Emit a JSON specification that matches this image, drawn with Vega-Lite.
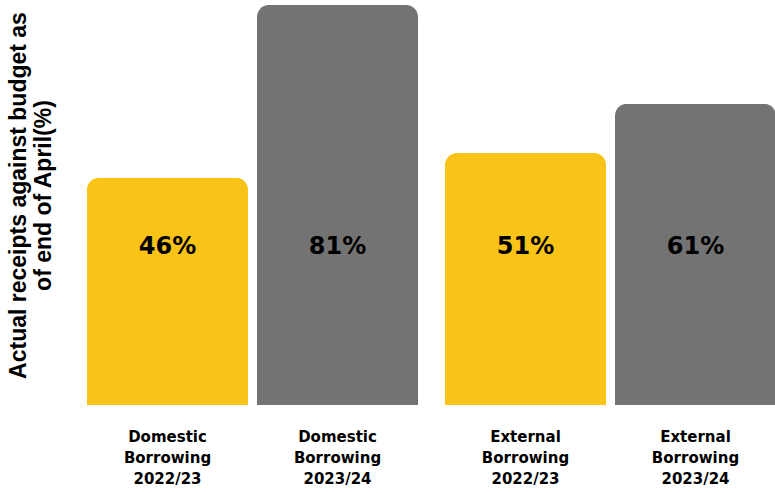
{
  "$schema": "https://vega.github.io/schema/vega-lite/v6.json",
  "width": 689,
  "height": 405,
  "autosize": {"type": "none"},
  "padding": {"left": 87, "top": 0, "right": 0, "bottom": 88},
  "background": "white",
  "config": {"view": {"stroke": null}},
  "data": {
    "values": [
      {"group": "Domestic Borrowing", "year": "2022/23", "value": 46, "pct": "46%", "label": "Domestic\nBorrowing\n2022/23"},
      {"group": "Domestic Borrowing", "year": "2023/24", "value": 81, "pct": "81%", "label": "Domestic\nBorrowing\n2023/24"},
      {"group": "External Borrowing", "year": "2022/23", "value": 51, "pct": "51%", "label": "External\nBorrowing\n2022/23"},
      {"group": "External Borrowing", "year": "2023/24", "value": 61, "pct": "61%", "label": "External\nBorrowing\n2023/24"}
    ]
  },
  "encoding": {
    "x": {"field": "group", "type": "nominal", "sort": null, "scale": {"paddingInner": 0.0754, "paddingOuter": 0}, "axis": null},
    "xOffset": {"field": "year", "type": "nominal", "sort": null, "scale": {"paddingInner": 0.0529, "paddingOuter": 0}}
  },
  "layer": [
    {
      "mark": {"type": "bar", "cornerRadiusTopLeft": 12, "cornerRadiusTopRight": 12},
      "encoding": {
        "y": {
          "field": "value",
          "type": "quantitative",
          "scale": {"domain": [0, 82], "nice": false},
          "axis": {
            "title": ["Actual receipts against budget as", "of end of April(%)"],
            "titleFont": "Liberation Sans",
            "titleFontSize": 23,
            "titleFontWeight": 900,
            "titleColor": "black",
            "titleLineHeight": 25,
            "titlePadding": 32,
            "titleY": 195,
            "labels": false,
            "ticks": false,
            "domain": false,
            "grid": false
          }
        },
        "color": {"field": "year", "type": "nominal", "scale": {"range": ["#FAC318", "#737373"]}, "legend": null}
      }
    },
    {
      "mark": {"type": "text", "font": "DejaVu Sans", "fontSize": 24, "fontWeight": "bold", "color": "black", "baseline": "middle"},
      "encoding": {
        "y": {"datum": 32},
        "text": {"field": "pct", "type": "nominal"}
      }
    },
    {
      "mark": {"type": "text", "font": "DejaVu Sans", "fontSize": 15, "fontWeight": "bold", "color": "black", "baseline": "top", "lineBreak": "\n", "lineHeight": 21, "dy": 25},
      "encoding": {
        "y": {"datum": 0},
        "text": {"field": "label", "type": "nominal"}
      }
    }
  ]
}
